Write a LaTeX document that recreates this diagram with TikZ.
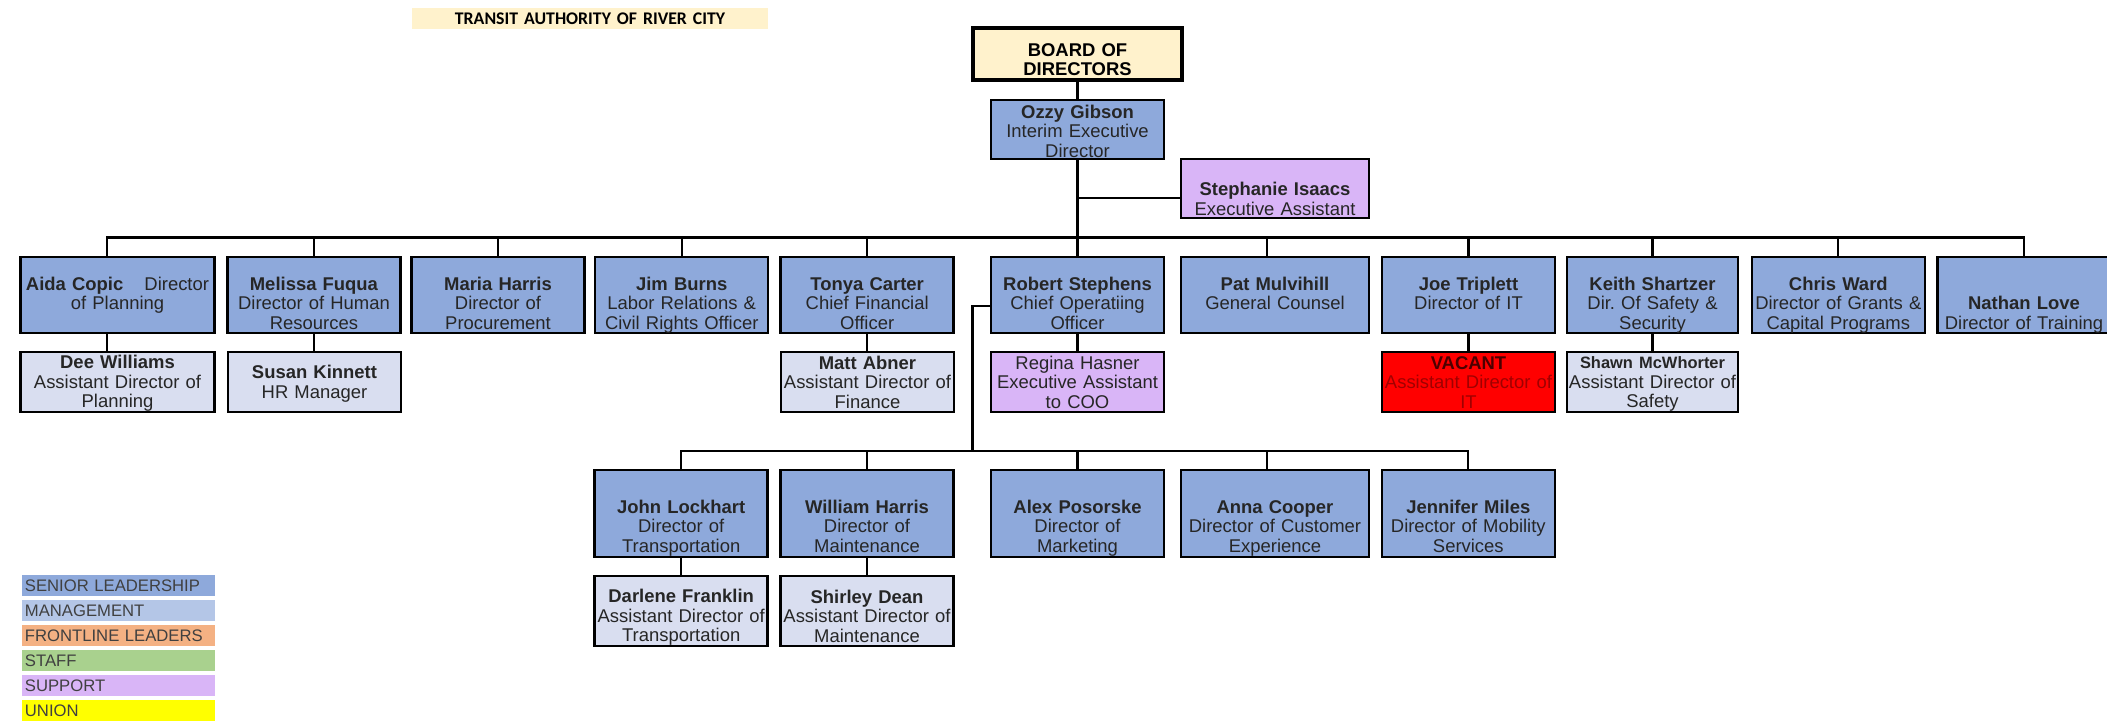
\documentclass[tikz,border=0pt]{standalone}
\usepackage{fontspec}
\setmainfont{Liberation Sans}
\newfontfamily\calibri{Carlito}

\definecolor{senior}{HTML}{8EA9DB}
\definecolor{manager}{HTML}{D9DEF0}
\definecolor{mgmtkey}{HTML}{B4C6E7}
\definecolor{frontline}{HTML}{F4B183}
\definecolor{staff}{HTML}{A9D18E}
\definecolor{support}{HTML}{D9B5F7}
\definecolor{union}{HTML}{FFFF00}
\definecolor{board}{HTML}{FFF2CC}
\definecolor{vacant}{HTML}{FF0000}
\definecolor{vacanttext}{HTML}{A00000}

\newcommand\cardfont{\fontsize{8.3}{8.8}\selectfont}
\newcommand\keyfont{\fontsize{7.5}{8}\selectfont}

\tikzset{
  card/.style={draw, line width=1.1pt, inner sep=0pt, align=center,
    font=\cardfont, text=black!85, text width=173*0.45pt},
  wd/.style={text width=#1*0.45pt},
  pad/.style 2 args={execute at begin node={\rule{0pt}{#1}},
    execute at end node={\rule[-#2]{0pt}{#2}}},
  senior/.style={card, fill=senior, minimum height=76*0.45pt, pad={14.9pt}{1.5pt}},
  deputy/.style={card, fill=manager, minimum height=60*0.45pt, pad={7.5pt}{1.5pt}},
  ops/.style={card, fill=senior, minimum height=87*0.45pt, pad={19.1pt}{1.5pt}},
  opsdeputy/.style={card, fill=manager, minimum height=70*0.45pt, pad={12.1pt}{1.5pt}},
  banner/.style={fill=board, inner sep=0pt, text width=355.5*0.45pt,
    minimum height=21.5*0.45pt, align=center,
    font=\calibri\bfseries\fontsize{8}{9}\selectfont},
  swatch/.style={fill=#1, inner xsep=1.2pt, inner ysep=0pt, text width=84.3pt,
    minimum height=20.5*0.45pt, align=left, font=\keyfont, text=black!75},
  link/.style={line width=1pt, line cap=rect},
}

\begin{document}
\begin{tikzpicture}[x=0.45pt, y=-0.45pt]
  \useasboundingbox (0,0) rectangle (2107,725);

  \node[banner] (title) at (590,18.3) {TRANSIT AUTHORITY OF RIVER CITY};
  \node[card, wd=209, fill=board, line width=1.5pt, minimum height=52*0.45pt,
    pad={11.3pt}{0.5pt}, font=\cardfont\bfseries, text=black] (board) at (1077.5,54) {BOARD OF\\DIRECTORS};
  \node[card, fill=senior, minimum height=59*0.45pt, pad={7.9pt}{0.5pt}] (ozzy) at (1077.5,129.5)
    {\textbf{Ozzy Gibson}\\Interim Executive\\Director};
  \node[card, wd=188.5, fill=support, minimum height=59*0.45pt, pad={16pt}{0.5pt}] (stephanie) at (1275,188.5)
    {\textbf{Stephanie Isaacs}\\Executive Assistant};

  % directors
  \node[senior, wd=194] (aida) at (117.5,295) {\textbf{Aida Copic}\hspace{9.5pt}Director\\of Planning\\};
  \node[senior] (melissa) at (314,295) {\textbf{Melissa Fuqua}\\Director of Human\\Resources};
  \node[senior] (maria) at (498,295) {\textbf{Maria Harris}\\Director of\\Procurement};
  \node[senior] (jim) at (681.7,295) {\textbf{Jim Burns}\\Labor Relations \&\\Civil Rights Officer};
  \node[senior] (tonya) at (867.2,295) {\textbf{Tonya Carter}\\Chief Financial\\Officer};
  \node[senior] (robert) at (1077.5,295) {\textbf{Robert Stephens}\\Chief Operatiing\\Officer};
  \node[senior, wd=188.5] (pat) at (1275,295) {\textbf{Pat Mulvihill}\\General Counsel\\};
  \node[senior] (joe) at (1468.5,295) {\textbf{Joe Triplett}\\Director of IT\\};
  \node[senior, wd=171] (keith) at (1652.5,295) {\textbf{Keith Shartzer}\\Dir.\ Of Safety \&\\Security};
  \node[senior] (chris) at (1838.3,295) {\textbf{Chris Ward}\\Director of Grants \&\\Capital Programs};
  \node[senior] (nathan) at (2024,295) {\\\textbf{Nathan Love}\\Director of Training};

  % assistants
  \node[deputy, wd=194] (dee) at (117.5,382) {\textbf{Dee Williams}\\Assistant Director of\\Planning};
  \node[deputy] (susan) at (314.5,382) {\textbf{Susan Kinnett}\\HR Manager};
  \node[deputy] (matt) at (867.5,382) {\textbf{Matt Abner}\\Assistant Director of\\Finance};
  \node[deputy, fill=support] (regina) at (1077.5,382) {Regina Hasner\\Executive Assistant\\to COO};
  \node[deputy, fill=vacant, text=vacanttext] (vacant) at (1468.5,382)
    {\textcolor{black!70!red}{\textbf{VACANT}}\\Assistant Director of\\IT};
  \node[deputy, wd=171] (shawn) at (1652.5,382)
    {{\fontsize{7.4}{8.8}\selectfont\bfseries Shawn McWhorter}\\Assistant Director of\\Safety};

  % operations
  \node[ops] (john) at (681.2,513.4) {\textbf{John Lockhart}\\Director of\\Transportation};
  \node[ops] (william) at (867,513.4) {\textbf{William Harris}\\Director of\\Maintenance};
  \node[ops] (alex) at (1077.5,513.4) {\textbf{Alex Posorske}\\Director of\\Marketing};
  \node[ops, wd=188.5] (anna) at (1275,513.4) {\textbf{Anna Cooper}\\Director of Customer\\Experience};
  \node[ops] (jennifer) at (1468.3,513.4) {\textbf{Jennifer Miles}\\Director of Mobility\\Services};
  \node[opsdeputy] (darlene) at (681.2,610.9) {\textbf{Darlene Franklin}\\Assistant Director of\\Transportation};
  \node[opsdeputy] (shirley) at (867,610.9) {\textbf{Shirley Dean}\\Assistant Director of\\Maintenance};

  \coordinate (busL) at (107,237.5);
  \coordinate (assist) at (1077.5,198);
  \coordinate (opsJ) at (972.5,306);
  \coordinate (opsbus) at (972.5,450.7);
  \coordinate (aidadrop) at ([xshift=-4.7pt]aida.north);
  \coordinate (patdrop) at ([xshift=-3.6pt]pat.north);
  \coordinate (annadrop) at ([xshift=-3.6pt]anna.north);

  \draw[link] (board) -- (ozzy);
  \draw[link] (ozzy) -- (robert);
  \draw[link] (assist) -- (assist -| stephanie.west);
  \draw[link] (busL) -- (busL -| nathan.north);
  \draw[link] (aidadrop) -- (aidadrop |- busL);
  \draw[link] (aidadrop |- aida.south) -- (aidadrop |- dee.north);
  \draw[link] (patdrop) -- (patdrop |- busL);
  \foreach \n in {melissa,maria,jim,tonya,joe,keith,chris,nathan}
    \draw[link] (\n.north) -- (\n.north |- busL);
  \foreach \a/\b in {melissa/susan,tonya/matt,robert/regina,joe/vacant,keith/shawn,john/darlene,william/shirley}
    \draw[link] (\a.south) -- (\a.south |- \b.north);
  \draw[link] (opsJ -| robert.west) -- (opsJ) -- (opsbus);
  \draw[link] (opsbus -| john.north) -- (opsbus -| jennifer.north);
  \foreach \n in {john,william,alex,jennifer}
    \draw[link] (\n.north) -- (\n.north |- opsbus);
  \draw[link] (annadrop) -- (annadrop |- opsbus);

  % legend
  \foreach \lab/\col [count=\i from 0] in {SENIOR LEADERSHIP/senior, MANAGEMENT/mgmtkey,
      FRONTLINE LEADERS/frontline, STAFF/staff, SUPPORT/support, UNION/union}
    \node[swatch=\col] (key\i) at (118.6,585.5+25*\i) {\lab};
\end{tikzpicture}
\end{document}
